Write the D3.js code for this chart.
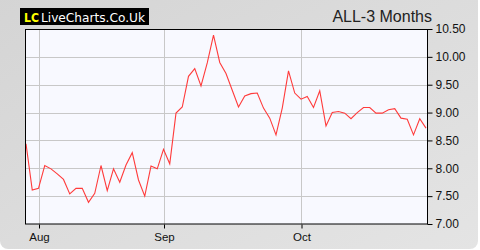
<!DOCTYPE html>
<html><head><meta charset="utf-8">
<script src="https://cdn.jsdelivr.net/npm/d3@7"></script>
<style>html,body{margin:0;padding:0;background:#fff;}svg{display:block;}</style>
</head><body>
<script>
const title = "ALL-3 Months";
const values = [8.44,7.61,7.64,8.05,7.99,7.90,7.80,7.54,7.64,7.64,7.39,7.55,8.05,7.60,7.99,7.75,8.06,8.28,7.79,7.50,8.04,7.99,8.34,8.08,8.99,9.10,9.65,9.79,9.48,9.89,10.39,9.90,9.70,9.40,9.10,9.30,9.34,9.35,9.08,8.90,8.60,9.08,9.75,9.35,9.24,9.29,9.09,9.39,8.76,9.00,9.02,8.99,8.89,9.00,9.09,9.09,8.99,8.99,9.05,9.07,8.90,8.88,8.60,8.89,8.72];
const monthLabels = ["Aug","Sep","Oct"];
const monthIndex = [2,22,44];
const yTicks = [7.00,7.50,8.00,8.50,9.00,9.50,10.00,10.50];

const W=480,H=250;
const L=25,R=427,T=29,B=224;
const svg=d3.select("body").append("svg").attr("width",W).attr("height",H);
const defs=svg.append("defs");
const g=defs.append("linearGradient").attr("id","bg").attr("x1","0").attr("y1","0").attr("x2","1").attr("y2","1");
g.append("stop").attr("offset","0").attr("stop-color","#d4d4d4");
g.append("stop").attr("offset","1").attr("stop-color","#e4e4e4");
svg.append("rect").attr("x",0).attr("y",-10).attr("width",478).attr("height",259).attr("rx",8).attr("fill","url(#bg)");

const x=d3.scaleLinear().domain([0,values.length-1]).range([L+1,R-1]);
const y=d3.scaleLinear().domain([7,10.5]).range([B,T]);

svg.append("rect").attr("x",L).attr("y",T).attr("width",R-L).attr("height",B-T).attr("fill","#f8f9ff");
// grid
svg.append("g").selectAll("line").data(yTicks.slice(1,-1)).join("line")
  .attr("x1",L).attr("x2",R).attr("y1",d=>Math.round(y(d))+0.5).attr("y2",d=>Math.round(y(d))+0.5)
  .attr("stroke","#c8c8c8").attr("stroke-width",1);
svg.append("g").selectAll("line").data(monthIndex).join("line")
  .attr("x1",d=>Math.round(x(d))+0.5).attr("x2",d=>Math.round(x(d))+0.5).attr("y1",T).attr("y2",B)
  .attr("stroke","#c8c8c8").attr("stroke-width",1);

// line
svg.append("path").datum(values)
  .attr("d",d3.line().x((d,i)=>x(i)).y(d=>y(d)))
  .attr("fill","none").attr("stroke","#ff3b3b").attr("stroke-width",1.1);

// frame
svg.append("rect").attr("x",L+0.5).attr("y",T+0.5).attr("width",R-L).attr("height",B-T-0.5)
  .attr("fill","none").attr("stroke","#000").attr("stroke-width",1);

// right axis
const ya=d3.axisRight(y).tickValues(yTicks).tickFormat(d3.format(".2f")).tickSize(5).tickPadding(3);
const gy=svg.append("g").attr("transform",`translate(${R+0.5},0)`).call(ya);
gy.select(".domain").remove();
gy.selectAll("text").attr("font-family","Liberation Sans, Arial, sans-serif").attr("font-size",12).attr("fill","#111");

// bottom axis
const xa=d3.axisBottom(x).tickValues(monthIndex).tickFormat((d,i)=>monthLabels[i]).tickSize(4).tickPadding(4);
const gx=svg.append("g").attr("transform",`translate(0.5,${B+0.5})`).call(xa);
gx.select(".domain").remove();
gx.selectAll("text").attr("font-family","Liberation Sans, Arial, sans-serif").attr("font-size",11.5).attr("fill","#111");

// logo
svg.append("rect").attr("x",20).attr("y",8).attr("width",129).attr("height",17).attr("fill","#000");
svg.append("text").attr("x",24).attr("y",21.5).attr("font-family","DejaVu Sans, sans-serif").attr("font-size",12)
  .attr("font-weight","bold").attr("fill","#ffff00").attr("textLength",15).attr("lengthAdjust","spacingAndGlyphs").text("LC");
svg.append("text").attr("x",41).attr("y",21.5).attr("font-family","DejaVu Sans, sans-serif").attr("font-size",12)
  .attr("fill","#fff").attr("textLength",104).attr("lengthAdjust","spacingAndGlyphs").text("LiveCharts.Co.Uk");

svg.append("text").attr("x",432).attr("y",22).attr("text-anchor","end")
  .attr("font-family","Liberation Sans, Arial, sans-serif").attr("font-size",16).attr("fill","#222").text(title);
</script>
</body></html>
